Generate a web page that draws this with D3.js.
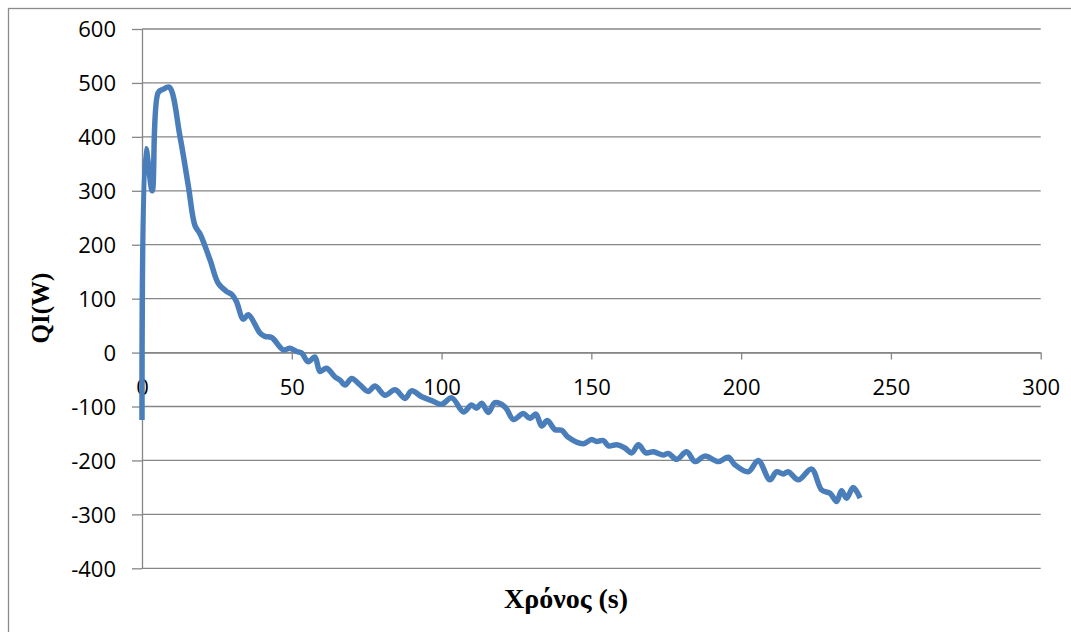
<!DOCTYPE html>
<html>
<head>
<meta charset="utf-8">
<script src="https://cdn.jsdelivr.net/npm/d3@7/dist/d3.min.js"></script>
<style>
  html, body { margin: 0; padding: 0; background: #fff; }
  svg { display: block; }
  .tick text { font-family: "Open Sans", "Liberation Sans", sans-serif; font-size: 22px; fill: #000; }
</style>
</head>
<body>
<svg id="chart" width="1071" height="632"></svg>
<script>
// Data: time (s) and QI (W)
const timeS = [0, 1.3, 3.4, 5.4, 7, 9.1, 12.7, 15.5, 17.7, 19.4, 22.7, 25.5, 28.3, 29.9, 31.5, 33.8, 35.5, 39.4, 41, 43.3,
  47.2, 49.4, 51.6, 53.3, 55.5, 57.7, 59.4, 61.6, 64.4, 66.1, 67.8, 70, 72.8, 75.5, 77.8, 81.1, 84.5, 87.8, 90, 93.4,
  96.7, 100, 103.4, 107.3, 110, 111.7, 113.4, 115.6, 117.8, 121.2, 124, 127.3, 129.5, 131.5, 133.4, 135.3, 137.9, 140.1,
  142.3, 147.3, 150.1, 151.8, 154, 155.7, 158.5, 161.2, 163.5, 165.7, 168.2, 170.7, 174, 175.7, 178.5, 181.8, 184.6,
  187.9, 192.4, 195.7, 197.9, 202.4, 205.7, 209.6, 211.8, 214.1, 215.7, 219.1, 223.5, 226.9, 229.7, 231.9, 233.5,
  235.2, 237.4, 239.7];
const qiW = [-125, 378, 300, 482, 488, 492, 400, 308, 235, 220, 172, 128, 113, 108, 95, 62, 70, 36, 30, 28,
  5, 8, 2, -1, -17, -8, -35, -29, -45, -51, -60, -48, -60, -72, -62, -79, -69, -85, -71, -82,
  -89, -96, -84, -110, -97, -103, -94, -111, -93, -101, -124, -113, -122, -114, -136, -126, -143, -144,
  -157, -169, -161, -165, -163, -173, -171, -177, -186, -171, -186, -184, -190, -187, -198, -184, -202,
  -192, -202, -194, -208, -221, -200, -236, -221, -225, -221, -236, -216, -255, -261, -276, -256,
  -270, -250, -270];
const xTicks = [0, 50, 100, 150, 200, 250, 300];
const yTicks = [-400, -300, -200, -100, 0, 100, 200, 300, 400, 500, 600];
const xTitle = "Χρόνος (s)";
const yTitle = "QI(W)";

const svg = d3.select("#chart");
const gridColor = "#868686";
const fmt = d => String(d);   // plain hyphen-minus, as in the reference

// outer chart border
svg.append("rect").attr("x", 8.5).attr("y", 8.5).attr("width", 1070).attr("height", 640)
  .attr("fill", "none").attr("stroke", "#8c8c8c").attr("stroke-width", 1.3);

const x = d3.scaleLinear().domain([0, 300]).range([142, 1040.7]);
const y = d3.scaleLinear().domain([-400, 600]).range([568.3, 29]);

// horizontal gridlines
svg.append("g").selectAll("line").data(yTicks).join("line")
  .attr("x1", x(0)).attr("x2", x(300))
  .attr("y1", d => y(d)).attr("y2", d => y(d))
  .attr("stroke", gridColor).attr("stroke-width", 1.3);

// y axis
const yAxis = svg.append("g").attr("transform", `translate(${x(0)},0)`)
  .call(d3.axisLeft(y).tickValues(yTicks).tickSize(10).tickSizeOuter(0).tickPadding(16).tickFormat(fmt));
// x axis at y = 0
const xAxis = svg.append("g").attr("transform", `translate(0,${y(0)})`)
  .call(d3.axisBottom(x).tickValues(xTicks).tickSize(7).tickSizeOuter(0).tickPadding(20).tickFormat(fmt));

[yAxis, xAxis].forEach(g => {
  g.select(".domain").attr("stroke", gridColor).attr("stroke-width", 1.3);
  g.selectAll(".tick line").attr("stroke", gridColor).attr("stroke-width", 1.3);
});
yAxis.selectAll(".tick text").attr("dy", "0.36em");

// data line
const pts = timeS.map((t, i) => [t, qiW[i]]);
const line = d3.line().x(d => x(d[0])).y(d => y(d[1])).curve(d3.curveCatmullRom.alpha(0.5));
svg.append("path").datum(pts).attr("d", line)
  .attr("fill", "none").attr("stroke", "#4a7ebb").attr("stroke-width", 5.5)
  .attr("stroke-linejoin", "round").attr("stroke-linecap", "butt");

// axis titles
svg.append("text").attr("x", 566).attr("y", 608).attr("text-anchor", "middle")
  .attr("font-family", "Liberation Serif, Times New Roman, serif").attr("font-weight", "bold")
  .attr("font-size", 28).text(xTitle);
svg.append("text").attr("transform", "translate(49,308) rotate(-90)").attr("text-anchor", "middle")
  .attr("font-family", "Liberation Serif, Times New Roman, serif").attr("font-weight", "bold")
  .attr("font-size", 25).text(yTitle);
</script>
</body>
</html>
